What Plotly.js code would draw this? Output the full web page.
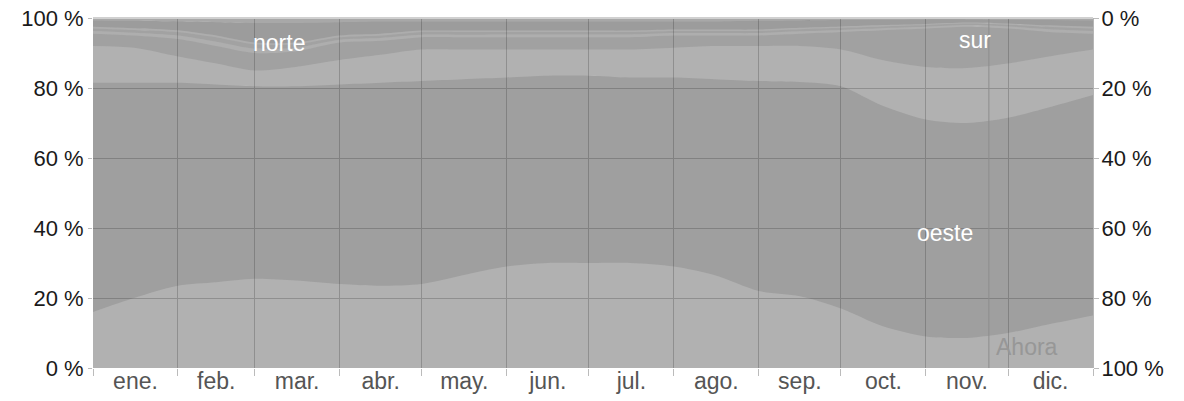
<!DOCTYPE html>
<html>
<head>
<meta charset="utf-8">
<script src="https://cdn.plot.ly/plotly-3.0.1.min.js"></script>
<style>html,body{margin:0;padding:0;background:#fff}#chart{width:1184px;height:401px}</style>
</head>
<body>
<div id="chart"></div>
<script>
// Day of year for each sampled point
const days = [0,15,31,45,59,74,90,105,120,135,151,166,181,196,212,227,243,258,273,288,304,319,334,349,365];

// Upper edge (cumulative %) of each band, bottom to top
const edgeNOlight = [16,20,23.5,24.5,25.5,25,24,23.5,24,26.5,29,30,30,30,29,26.5,22,20.5,17,12,9,8.6,10,12.5,15];
const edgeOeste   = [81.5,81.5,81.5,81,80.5,80.5,81,81.5,82,82.5,83,83.5,83.5,83,83,82.5,82,81.7,80.5,75,71,70,71.5,74.5,78];
const edgeSOlight = [92,91.5,89,87,85,86,88,89.5,91,91,91,91,91,91,91.5,92,92,92,91,88,86,85.7,87,89,91];
const edgeSur     = [95.5,95,94,92,90,90.5,93,93.5,94.5,94.5,94.5,94.5,94.5,94.5,95,95,95,95.5,96,96.5,97,97.5,97,96,95.5];
const edgeSElight = [96.3,95.8,95,93.2,91.2,91.5,93.8,94.3,95.2,95.2,95.3,95.3,95.3,95.3,95.7,95.7,95.7,96.2,96.6,97.1,97.5,98,97.6,96.8,96.3];
const edgeEste    = [97,96.6,96,94.5,92.5,92.5,94.5,95,96,96,96,96,96,96,96.3,96.3,96.3,96.8,97.2,97.6,98,98.4,98.1,97.5,97];
const edgeNElight = [97.5,97.1,96.5,95,93,93,95,95.5,96.4,96.4,96.4,96.4,96.4,96.4,96.7,96.7,96.7,97.2,97.6,98,98.3,98.7,98.4,97.9,97.5];
const edgeNorte   = [99.3,99.2,99,98.8,98.6,98.6,98.8,99,99,99,99,99,99,99,99,99,99.2,99.3,99.4,99.5,99.6,99.6,99.5,99.4,99.3];
const edgeTop     = [100,100,100,100,100,100,100,100,100,100,100,100,100,100,100,100,100,100,100,100,100,100,100,100,100];

// Axis ticks
const monthStarts = [0,31,59,90,120,151,181,212,243,273,304,334,365];
const monthMids = [15.5,45,74.5,105,135.5,166,196.5,227.5,258,288.5,319,349.5];
const monthLabels = ['ene.','feb.','mar.','abr.','may.','jun.','jul.','ago.','sep.','oct.','nov.','dic.'];
const pctTicks = [0,20,40,60,80,100];
const pctLabels = ['0 %','20 %','40 %','60 %','80 %','100 %'];
const nowDay = 327;

// Translucent black fills over a gray plot background so gridlines show through
const bands = [
  {y: edgeNOlight, a: 0.078},
  {y: edgeOeste,   a: 0.172},
  {y: edgeSOlight, a: 0.078},
  {y: edgeSur,     a: 0.161},
  {y: edgeSElight, a: 0.094},
  {y: edgeEste,    a: 0.151},
  {y: edgeNElight, a: 0.099},
  {y: edgeNorte,   a: 0.19},
  {y: edgeTop,     a: 0.12}
];

const traces = bands.map((b, i) => ({
  x: days, y: b.y, type: 'scatter', mode: 'lines',
  line: {width: 0, shape: 'spline', smoothing: 0.8},
  fill: i === 0 ? 'tozeroy' : 'tonexty',
  fillcolor: 'rgba(0,0,0,' + b.a + ')', hoverinfo: 'skip', showlegend: false
}));

const FF = 'Liberation Sans, Arial, sans-serif';
const labelFont = {family: FF, size: 23, color: '#ffffff'};

const layout = {
  width: 1184, height: 401,
  margin: {l: 93, r: 91, t: 18, b: 33},
  paper_bgcolor: '#ffffff',
  plot_bgcolor: '#c0c0c0',
  font: {family: FF, size: 22, color: '#222'},
  showlegend: false,
  xaxis: {
    range: [0, 365], tickmode: 'array', tickvals: monthStarts, showticklabels: false,
    ticks: 'outside', ticklen: 7, tickcolor: '#bbbbbb',
    showgrid: true, gridcolor: '#9c9c9c', gridwidth: 1,
    zeroline: false, showline: false, fixedrange: true
  },
  xaxis2: {
    overlaying: 'x', side: 'bottom', range: [0, 365],
    tickmode: 'array', tickvals: monthMids, ticktext: monthLabels, ticks: '',
    ticklabelstandoff: -3,
    showgrid: false, zeroline: false, showline: false,
    tickfont: {family: FF, size: 23, color: '#555555'}
  },
  yaxis: {
    range: [0, 100], tickmode: 'array', tickvals: pctTicks, ticktext: pctLabels,
    ticks: 'outside', ticklen: 4, tickcolor: '#bbbbbb',
    showgrid: true, gridcolor: '#9c9c9c', gridwidth: 1,
    zeroline: false, showline: false,
    tickfont: {family: FF, size: 22, color: '#1a1a1a'}
  },
  yaxis2: {
    overlaying: 'y', side: 'right', range: [100, 0],
    tickmode: 'array', tickvals: pctTicks, ticktext: pctLabels,
    ticks: 'outside', ticklen: 5, tickcolor: '#bbbbbb',
    ticklabelstandoff: -2,
    showgrid: false, zeroline: false,
    showline: true, linecolor: '#b5b5b5', linewidth: 1,
    tickfont: {family: FF, size: 22, color: '#1a1a1a'}
  },
  shapes: [
    {type: 'line', xref: 'x', yref: 'paper', x0: nowDay, x1: nowDay, y0: 0, y1: 1,
     line: {color: '#8c8c8c', width: 1}, layer: 'above'},
    {type: 'line', xref: 'paper', yref: 'paper', x0: 0, x1: 1, y0: 1, y1: 1,
     line: {color: '#d0d0d0', width: 2}}
  ],
  annotations: [
    {x: 68, y: 93, xref: 'x', yref: 'y', text: 'norte', showarrow: false, font: labelFont},
    {x: 322, y: 93.6, xref: 'x', yref: 'y', text: 'sur', showarrow: false, font: labelFont},
    {x: 311, y: 38.6, xref: 'x', yref: 'y', text: 'oeste', showarrow: false, font: labelFont},
    {x: 341, y: 6, xref: 'x', yref: 'y', text: 'Ahora', showarrow: false,
     font: {family: FF, size: 23, color: '#979797'}}
  ]
};

// invisible helper trace so the overlay axes render
traces.push({x: [0, 365], y: [0, 0], xaxis: 'x2', yaxis: 'y2', mode: 'none', type: 'scatter', hoverinfo: 'skip', showlegend: false});

Plotly.newPlot('chart', traces, layout, {staticPlot: true, displayModeBar: false});
</script>
</body>
</html>
